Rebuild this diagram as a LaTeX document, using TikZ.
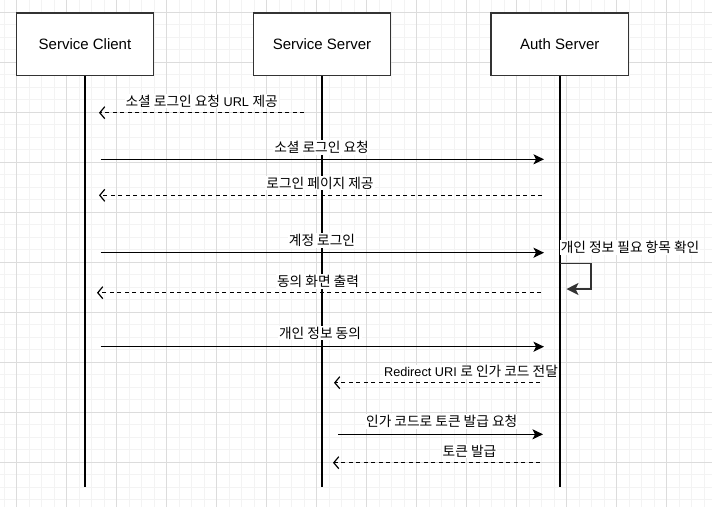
\documentclass[tikz,border=0pt]{standalone}
\usepackage{fontspec}
\setmainfont{Liberation Sans}
\newfontfamily\kr[Scale=1.08]{Noto Sans CJK KR}
\usetikzlibrary{arrows.meta}
\definecolor{gridmajor}{RGB}{220,220,220}
\definecolor{gridminor}{RGB}{243,243,243}
\definecolor{boxline}{RGB}{51,51,51}
\newcommand{\K}[1]{{\kr #1}}
\begin{document}
\begin{tikzpicture}[x=1pt,y=-1pt,
  actor/.style={draw=boxline, line width=1.2pt, fill=white, minimum width=137.5pt, minimum height=62.5pt, inner sep=0pt, font=\fontsize{15}{18}\selectfont},
  life/.style={line width=2pt, black},
  msg/.style={line width=1.2pt, black, -{Stealth[length=10.5pt,width=10pt,inset=2.5pt]}},
  reply/.style={line width=1.2pt, black, dash pattern=on 4pt off 3.5pt, -{Straight Barb[length=5pt,width=12pt]}},
  selfmsg/.style={line width=1.2pt, boxline, -{Stealth[length=12pt,width=12pt,inset=3pt]}},
  lbl/.style={fill=white, inner sep=1pt, font=\fontsize{12.7}{15}\selectfont},
  gminor/.style={gridminor, line width=1pt},
  gmajor/.style={gridmajor, line width=1pt}]
\useasboundingbox (0,0) rectangle (712,507);
\fill[white] (0,0) rectangle (712,507);
% grid
\foreach \i in {0,...,57} {
  \pgfmathsetmacro\gx{4.17+12.5*\i}
  \draw[gminor] (\gx,0) -- (\gx,507);
}
\foreach \i in {0,...,41} {
  \pgfmathsetmacro\gy{-0.2+12.5*\i}
  \draw[gminor] (0,\gy) -- (712,\gy);
}
\foreach \i in {0,...,14} {
  \pgfmathsetmacro\gx{16.67+50*\i}
  \draw[gmajor] (\gx,0) -- (\gx,507);
}
\foreach \i in {0,...,10} {
  \pgfmathsetmacro\gy{12.3+50*\i}
  \draw[gmajor] (0,\gy) -- (712,\gy);
}
% actors
\node[actor] (client) at (85,44.25) {Service Client};
\node[actor] (server) at (322,44.25) {Service Server};
\node[actor] (auth) at (559.75,44.25) {Auth Server};
\coordinate (cend) at (85,487);
\coordinate (send) at (322,487);
\coordinate (aend) at (559.75,487);
\draw[life] (client.south) -- (cend);
\draw[life] (server.south) -- (send);
\draw[life] (auth.south) -- (aend);
% message end points
\coordinate (m1a) at (304,112.7);   \coordinate (m1b) at (99,112.7);
\coordinate (m2a) at (100.7,159.3); \coordinate (m2b) at (544,159.3);
\coordinate (m3a) at (542,195.3);   \coordinate (m3b) at (99,195.3);
\coordinate (m4a) at (100.7,252.7); \coordinate (m4b) at (544,252.7);
\coordinate (s1) at (559.75,263.3); \coordinate (s2) at (591,263.3);
\coordinate (s3) at (591,289);      \coordinate (s4) at (566.5,289);
\coordinate (m6a) at (541,292.7);   \coordinate (m6b) at (97,292.7);
\coordinate (m7a) at (100.7,346.7); \coordinate (m7b) at (544,346.7);
\coordinate (m8a) at (540,382.7);   \coordinate (m8b) at (334,382.7);
\coordinate (m9a) at (338,434.3);   \coordinate (m9b) at (543,434.3);
\coordinate (m10a) at (540,462.7);  \coordinate (m10b) at (333,462.7);
% messages
\draw[reply] (m1a) -- (m1b);
\draw[msg] (m2a) -- (m2b);
\draw[reply] (m3a) -- (m3b);
\draw[msg] (m4a) -- (m4b);
\draw[selfmsg] (s1) -- (s2) -- (s3) -- (s4);
\draw[reply] (m6a) -- (m6b);
\draw[msg] (m7a) -- (m7b);
\draw[reply] (m8a) -- (m8b);
\draw[msg] (m9a) -- (m9b);
\draw[reply] (m10a) -- (m10b);
% labels
\node[lbl] (l1) at (201.7,101) {\K{소셜 로그인 요청} URL \K{제공}};
\node[lbl] (l2) at (321.5,147.5) {\K{소셜 로그인 요청}};
\node[lbl] (l3) at (320,183) {\K{로그인 페이지 제공}};
\node[lbl] (l4) at (322,240.5) {\K{계정 로그인}};
\node[lbl] (l5) at (630,247.3) {\K{개인 정보 필요 항목 확인}};
\node[lbl] (l6) at (318,281.5) {\K{동의 화면 출력}};
\node[lbl] (l7) at (320,333) {\K{개인 정보 동의}};
\node[lbl] (l8) at (471,371.7) {Redirect URI \K{로 인가 코드 전달}};
\node[lbl] (l9) at (441.7,421.5) {\K{인가 코드로 토큰 발급 요청}};
\node[lbl] (l10) at (469.5,451) {\K{토큰 발급}};
\end{tikzpicture}
\end{document}
